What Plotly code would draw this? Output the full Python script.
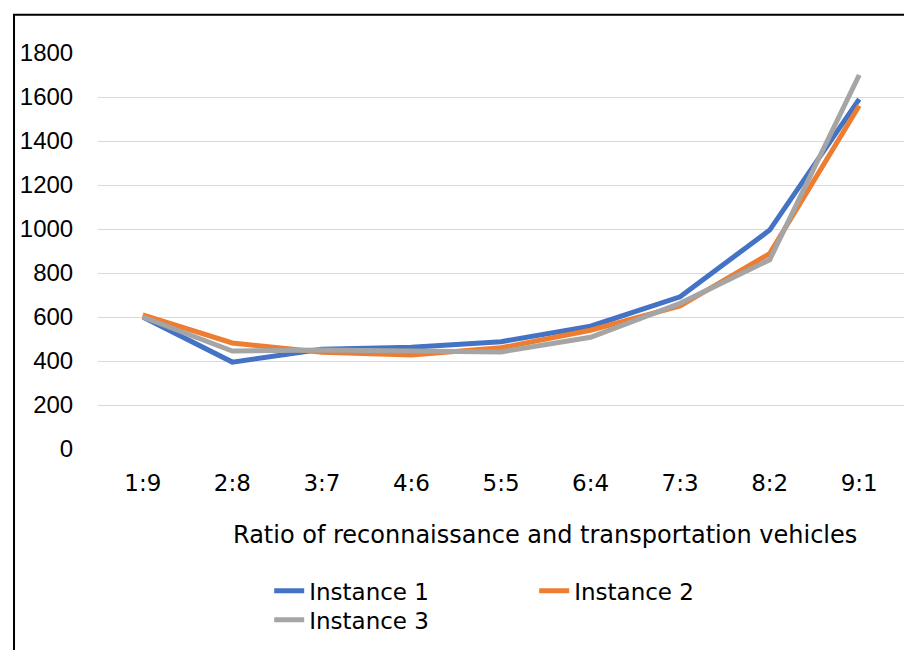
import plotly.graph_objects as go

categories = ["1:9", "2:8", "3:7", "4:6", "5:5", "6:4", "7:3", "8:2", "9:1"]
instance1 = [600, 395, 453, 462, 488, 558, 692, 995, 1590]
instance2 = [610, 482, 440, 427, 460, 540, 650, 888, 1560]
instance3 = [600, 445, 450, 445, 441, 508, 662, 860, 1700]
series_names = ["Instance 1", "Instance 2", "Instance 3"]
colors = ["#4472C4", "#ED7D31", "#A5A5A5"]
legend_ids = ["legend", "legend", "legend2"]
y_ticks = [0, 200, 400, 600, 800, 1000, 1200, 1400, 1600, 1800]

txt_font = "DejaVu Sans, sans-serif"
num_font = "Liberation Sans, Arial, sans-serif"

fig = go.Figure()
for name, vals, col, lg in zip(series_names, [instance1, instance2, instance3], colors, legend_ids):
    fig.add_trace(go.Scatter(
        x=categories, y=vals, name=name, mode="lines",
        line=dict(color=col, width=5), legend=lg,
    ))

legend_common = dict(
    orientation="h", xanchor="left", yanchor="middle",
    font=dict(family=txt_font, size=23, color="#000000"),
    entrywidth=220, entrywidthmode="pixels",
    bgcolor="rgba(0,0,0,0)",
)

fig.update_layout(
    width=904, height=642,
    margin=dict(l=90, r=8, t=45, b=201),
    paper_bgcolor="white", plot_bgcolor="white",
    showlegend=True,
    legend=dict(x=0.2124, y=-0.358, **legend_common),
    legend2=dict(x=0.2124, y=-0.431, **legend_common),
    xaxis=dict(
        type="category", range=[-0.5, 8.5], showgrid=False, zeroline=False, showline=False,
        ticks="outside", ticklen=13, tickcolor="rgba(0,0,0,0)",
        tickfont=dict(family=txt_font, size=23, color="#000000"),
    ),
    yaxis=dict(
        range=[0, 1800], tickvals=y_ticks, showgrid=True,
        gridcolor="#D9D9D9", gridwidth=1.3, zeroline=False, showline=False,
        ticks="outside", ticklen=19, tickcolor="rgba(0,0,0,0)",
        tickfont=dict(family=num_font, size=24, color="#000000"),
    ),
    annotations=[dict(
        text="Ratio of reconnaissance and transportation vehicles",
        xref="paper", yref="paper", x=0.555, y=-0.2164,
        xanchor="center", yanchor="middle", showarrow=False,
        font=dict(family=txt_font, size=24, color="#000000"),
    )],
    shapes=[dict(
        type="rect", xref="paper", yref="paper",
        x0=-0.1042, x1=1.03, y0=-0.7, y1=1.0967,
        line=dict(color="black", width=2), layer="above",
    )],
)

fig.write_html("out.html")
